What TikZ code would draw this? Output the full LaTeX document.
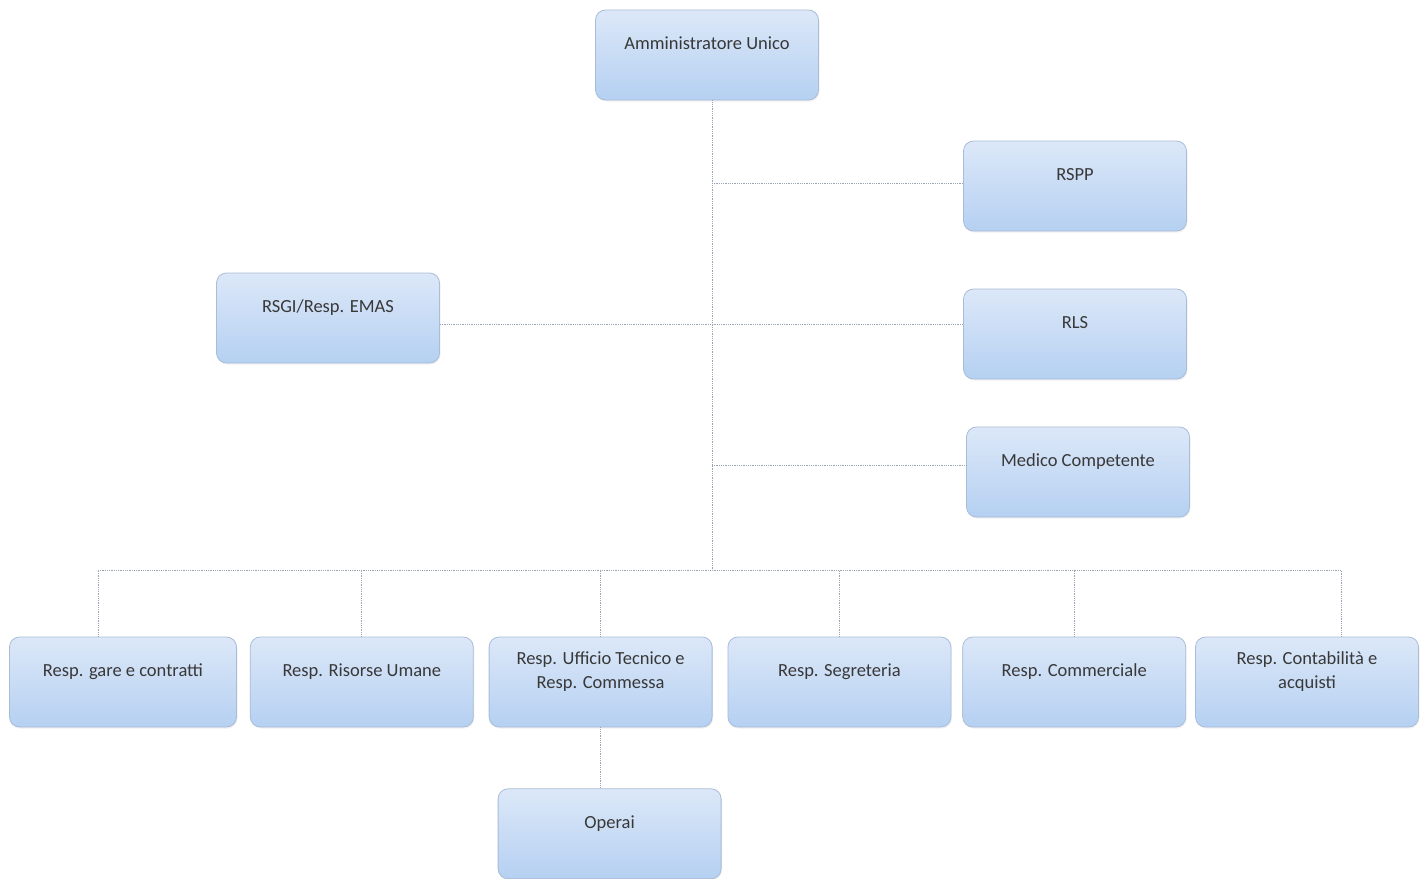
\documentclass[tikz,border=0pt]{standalone}
\usepackage{fontspec}
\setmainfont{Carlito}
\usetikzlibrary{positioning,shadows}

\definecolor{boxtop}{HTML}{DCE8F8}
\definecolor{boxbot}{HTML}{B5D0F2}
\definecolor{boxline}{HTML}{A9BCD8}
\definecolor{linkgray}{HTML}{9AA3B4}
\definecolor{textgray}{HTML}{383838}

\tikzset{
  unit/.style={rectangle, rounded corners=10pt, draw=boxline, line width=0.8pt,
    top color=boxtop, bottom color=boxbot, minimum width=223pt,
    minimum height=90pt, text depth=24pt, align=center, text=textgray,
    font=\fontsize{18.5}{24}\selectfont,
    drop shadow={opacity=0.12, shadow xshift=1pt, shadow yshift=-1.5pt}},
  link/.style={densely dotted, draw=linkgray, line width=0.8pt}
}

\begin{document}
\begin{tikzpicture}[x=1pt, y=-1pt]
  \useasboundingbox (0,0) rectangle (1424,878);

  \node (au) [unit] at (707,55) {Amministratore Unico};
  \node (rspp) [unit] at (1075,186) {RSPP};
  \node (rls) [unit] at (1075,334) {RLS};
  \node (mc) [unit] at (1078,472) {Medico Competente};
  \node (rsgi) [unit] at (328,318) {RSGI/Resp. EMAS};

  \node (gare) [unit, minimum width=227pt] at (123,682) {Resp. gare e contratti};
  \node (hr) [unit, right=13pt of gare] {Resp. Risorse Umane};
  \node (ut) [unit, right=15pt of hr] {Resp. Ufficio Tecnico e\\Resp. Commessa};
  \node (segr) [unit, right=15pt of ut] {Resp. Segreteria};
  \node (comm) [unit, right=11pt of segr] {Resp. Commerciale};
  \node (cont) [unit, right=9pt of comm] {Resp. Contabilità e\\acquisti};
  \node (op) [unit, below=61pt of ut, xshift=9pt] {Operai};

  \coordinate (bus) at (712,570);

  \draw [link] ([xshift=5pt]au.south) -- (bus);
  \draw [link] ([xshift=5pt]au.south |- 0,183) -- (rspp.west |- 0,183);
  \draw [link] (rsgi.east |- 0,324) -- (rls.west |- 0,324);
  \draw [link] ([xshift=5pt]au.south |- 0,465) -- (mc.west |- 0,465);

  \draw [link] ([xshift=-25pt]gare.north) |- (bus) -| ([xshift=34pt]cont.north);
  \foreach \n in {hr,ut,segr,comm}
    \draw [link] (\n.north) -- (\n.north |- bus);
  \draw [link] (ut.south) -- (ut.south |- op.north);

\end{tikzpicture}
\end{document}
